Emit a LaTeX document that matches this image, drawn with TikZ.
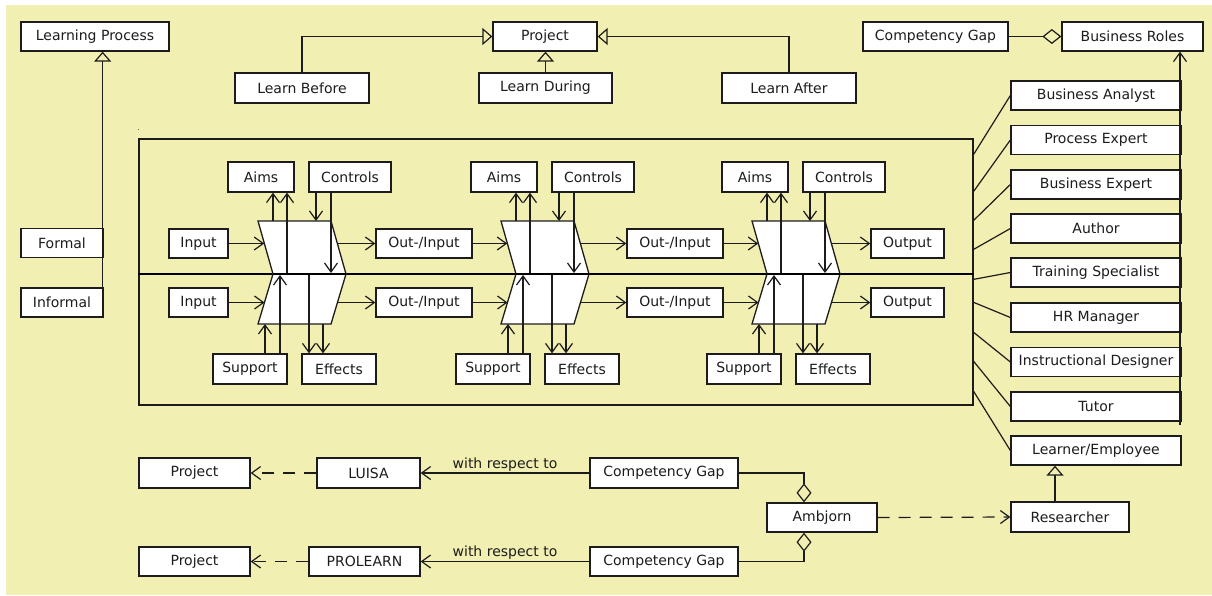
\documentclass[tikz,border=0pt]{standalone}
\usepackage{fontspec}
\setmainfont{DejaVu Sans}
\usetikzlibrary{arrows.meta,calc}
\definecolor{bgyellow}{RGB}{242,239,178}
\definecolor{ink}{RGB}{28,28,28}
\begin{document}
\begin{tikzpicture}[x=1pt,y=-1pt,
  font=\fontsize{14}{16}\selectfont,
  box/.style={draw=ink, fill=white, line width=1.3pt, inner sep=0pt, minimum height=29pt, text=ink},
  conn/.style={draw=ink, line width=1.2pt},
  va/.style={conn, -{Straight Barb[length=9pt,width=13pt,line width=1.2pt]}},
  inh/.style={conn, -{Triangle[open,length=10pt,width=17pt,line width=1.2pt]}},
  agg/.style={conn, -{Diamond[open,length=19pt,width=15pt,line width=1.2pt]}},
  dsh/.style={va, dash pattern=on 12pt off 9pt},
  shapeline/.style={draw=ink, fill=white, line width=1.3pt, line join=miter},
  lbl/.style={inner sep=1pt, text=ink}]
\useasboundingbox (0,0) rectangle (1212,595);
\fill[white] (0,0) rectangle (1212,595);
\fill[bgyellow] (6,5) rectangle (1212,595);

% ---------- top left ----------
\node[box, minimum width=148pt] (lp) at (95,36.5) {Learning Process};
\node[box, minimum width=82pt] (formal) at (62,243) {Formal};
\node[box, minimum width=82pt] (informal) at (62,302.5) {Informal};
\draw[inh] ([xshift=-1pt]informal.north east) -- ([xshift=-1pt]informal.north east |- lp.south);

% ---------- top middle ----------
\node[box, minimum width=104pt] (proj) at (545,36.5) {Project};
\node[box, minimum width=134pt, minimum height=30pt] (lbefore) at (302,88) {Learn Before};
\node[box, minimum width=133pt, minimum height=30pt] (lduring) at (545.5,88) {Learn During};
\node[box, minimum width=134pt, minimum height=30pt] (lafter) at (789,88) {Learn After};
\draw[inh] (lbefore.north) |- (proj.west);
\draw[inh] (lafter.north) |- (proj.east);
\draw[inh] (lduring.north) -- (lduring.north |- proj.south);

% ---------- top right ----------
\node[box, minimum width=145pt] (cgtop) at (935.5,36.5) {Competency Gap};
\node[box, minimum width=141pt] (broles) at (1132.5,36.5) {Business Roles};
\draw[agg] (cgtop.east) -- (broles.west);

% ---------- frame ----------
\node[draw=ink, line width=1.3pt, minimum width=834pt, minimum height=266pt, inner sep=0pt] (frame) at (556,272) {};
\node[inner sep=0pt, font=\fontsize{7}{8}\selectfont, text=ink] (dot) at (138.5,130) {.};
\coordinate (thl) at ($(frame.west)+(0,2)$);
\coordinate (thr) at ($(frame.east)+(0,2)$);
\draw[draw=black, line width=2.8pt] (thl) -- (thr);

% ---------- process units ----------
\foreach \d/\i in {0/1,243/2,494/3}{
  \coordinate (A\i) at ({258+\d},221);
  \coordinate (B\i) at ({331+\d},221);
  \coordinate (C\i) at ({346+\d},274);
  \coordinate (D\i) at ({273+\d},274);
  \coordinate (E\i) at ({331+\d},324);
  \coordinate (F\i) at ({258+\d},324);
  \draw[shapeline] (A\i) -- (B\i) -- (C\i) -- (D\i) -- cycle;
  \draw[shapeline] (D\i) -- (C\i) -- (E\i) -- (F\i) -- cycle;
  \draw[draw=black, line width=2.8pt] (D\i) -- (C\i);
  \coordinate (inU\i) at ({264.2+\d},243.5);
  \coordinate (outU\i) at ({337.3+\d},243.5);
  \coordinate (inL\i) at ({264.5+\d},302.5);
  \coordinate (outL\i) at ({337.5+\d},302.5);
  \node[box, minimum width=66pt, minimum height=30pt] (aims\i) at ({261+\d},177) {Aims};
  \node[box, minimum width=82pt, minimum height=30pt] (ctrl\i) at ({350+\d},177) {Controls};
  \node[box, minimum width=74pt, minimum height=30pt] (sup\i) at ({250+\d},369) {Support};
  \node[box, minimum width=74pt, minimum height=30pt] (eff\i) at ({339+\d},369) {Effects};
  \coordinate (p1\i) at ({273+\d},221);
  \coordinate (p2\i) at ({287+\d},273);
  \coordinate (p3\i) at ({316+\d},221);
  \coordinate (p4\i) at ({331+\d},273);
  \coordinate (p5\i) at ({265+\d},324);
  \coordinate (p6\i) at ({280+\d},275);
  \coordinate (p7\i) at ({309+\d},275);
  \coordinate (p8\i) at ({323+\d},324);
  \draw[va] (p1\i) -- (p1\i |- aims\i.south);
  \draw[va] (p2\i) -- (p2\i |- aims\i.south);
  \draw[va] (p3\i |- ctrl\i.south) -- (p3\i);
  \draw[va] (p4\i |- ctrl\i.south) -- (p4\i);
  \draw[va] (p5\i |- sup\i.north) -- (p5\i);
  \draw[va] (p6\i |- sup\i.north) -- (p6\i);
  \draw[va] (p7\i) -- (p7\i |- eff\i.north);
  \draw[va] (p8\i) -- (p8\i |- eff\i.north);
}

% lane boxes
\node[box, minimum width=59pt] (inU) at (198.5,243.5) {Input};
\node[box, minimum width=59pt] (inL) at (198.5,302.5) {Input};
\node[box, minimum width=96pt] (oiU1) at (424,243.5) {Out-/Input};
\node[box, minimum width=96pt] (oiL1) at (424,302.5) {Out-/Input};
\node[box, minimum width=96pt] (oiU2) at (675,243.5) {Out-/Input};
\node[box, minimum width=96pt] (oiL2) at (675,302.5) {Out-/Input};
\node[box, minimum width=73pt] (outU) at (907.5,243.5) {Output};
\node[box, minimum width=73pt] (outL) at (907.5,302.5) {Output};

\draw[va] (inU.east) -- (inU1);
\draw[va] (inL.east) -- (inL1);
\draw[va] (outU1) -- (oiU1.west);
\draw[va] (outL1) -- (oiL1.west);
\draw[va] (oiU1.east) -- (inU2);
\draw[va] (oiL1.east) -- (inL2);
\draw[va] (outU2) -- (oiU2.west);
\draw[va] (outL2) -- (oiL2.west);
\draw[va] (oiU2.east) -- (inU3);
\draw[va] (oiL2.east) -- (inL3);
\draw[va] (outU3) -- (outU.west);
\draw[va] (outL3) -- (outL.west);

% ---------- roles ----------
\foreach \nm/\yy/\txt in {ba/95.5/{Business Analyst}, pe/140/{Process Expert}, be/184.5/{Business Expert}, au/228.5/{Author}, ts/272.5/{Training Specialist}, hr/317.5/{HR Manager}, id/362/{Instructional Designer}, tu/406.5/{Tutor}, le/450.5/{Learner/Employee}}{
  \node[box, minimum width=170pt] (\nm) at (1096,\yy) {\txt};
}
\foreach \nm/\off in {ba/16, pe/53, be/82, au/111, ts/141, hr/164, id/194, tu/223, le/253}{
  \draw[conn] ($(frame.north east)+(0,\off)$) -- (\nm.west);
}
\coordinate (rv) at (1180,425);
\draw[va] (rv) -- (rv |- broles.south);

\node[box, minimum width=118pt, minimum height=30pt] (researcher) at (1070,517) {Researcher};
\draw[inh] ([xshift=-15pt]researcher.north) -- ([xshift=-15pt]researcher.north |- le.south);

% ---------- bottom ----------
\node[box, minimum width=111pt, minimum height=30pt] (projA) at (194.5,473) {Project};
\node[box, minimum width=103pt, minimum height=30pt] (luisa) at (368.5,473) {LUISA};
\node[box, minimum width=148pt, minimum height=30pt] (cg1) at (664,473) {Competency Gap};
\node[box, minimum width=111pt] (projB) at (194.5,561.5) {Project};
\node[box, minimum width=111pt] (prolearn) at (364.5,561.5) {PROLEARN};
\node[box, minimum width=148pt] (cg2) at (664,561.5) {Competency Gap};
\node[box, minimum width=110pt] (ambjorn) at (822,517.5) {Ambjorn};

\draw[dsh] (luisa.west) -- (projA.east);
\draw[dsh] (prolearn.west) -- (projB.east);
\draw[va] (cg1.west) -- node[above=0pt, lbl] {with respect to} (luisa.east);
\draw[va] (cg2.west) -- node[above=0pt, lbl] {with respect to} (prolearn.east);
\draw[agg] (cg1.east) -| ([xshift=-18pt]ambjorn.north);
\draw[agg] (cg2.east) -| ([xshift=-18pt]ambjorn.south);
\draw[dsh] (ambjorn.east) -- (researcher.west);
\end{tikzpicture}
\end{document}
